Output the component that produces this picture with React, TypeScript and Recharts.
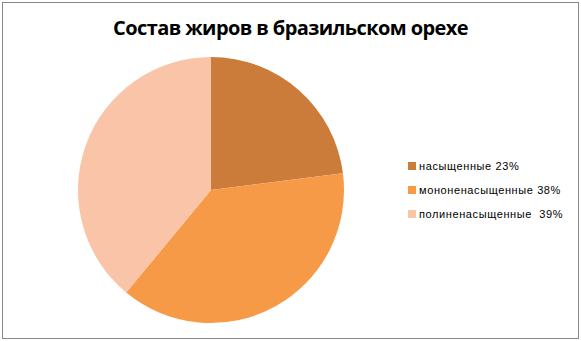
import { PieChart, Pie, Cell } from "recharts";

const fats = ["насыщенные", "мононенасыщенные", "полиненасыщенные"];
const shares = [23, 38, 39];
const legendLabels = ["насыщенные 23%", "мононенасыщенные 38%", "полиненасыщенные  39%"];
const colors = ["#CC7C3A", "#F79A48", "#F9C4A8"];

const data = fats.map((name, i) => ({ name, value: shares[i] }));

export default function App() {
  return (
    <div style={{ position: "fixed", left: 0, top: 0, width: 581, height: 341, background: "#fff" }}>
      <div
        style={{
          position: "absolute",
          left: 2,
          top: 2,
          width: 575,
          height: 335,
          border: "1px solid #888",
        }}
      />
      <div
        style={{
          position: "absolute",
          left: 0,
          width: 581,
          top: 14,
          textAlign: "center",
          fontFamily: "'Open Sans', sans-serif",
          fontWeight: 700,
          fontSize: 20,
          letterSpacing: -0.6,
          color: "#000",
        }}
      >
        Состав жиров в бразильском орехе
      </div>
      <div style={{ position: "absolute", left: 0, top: 0 }}>
        <PieChart width={581} height={341} margin={{ top: 0, right: 0, bottom: 0, left: 0 }}>
          <Pie
            data={data}
            dataKey="value"
            nameKey="name"
            cx={211}
            cy={190}
            outerRadius={133}
            startAngle={90}
            endAngle={-270}
            stroke="none"
            isAnimationActive={false}
          >
            {data.map((d, i) => (
              <Cell key={d.name} fill={colors[i]} />
            ))}
          </Pie>
        </PieChart>
      </div>
      {legendLabels.map((label, i) => (
        <div
          key={label}
          style={{
            position: "absolute",
            left: 408,
            top: 158 + i * 24,
            height: 16,
            display: "flex",
            alignItems: "center",
            fontFamily: "'Liberation Sans', sans-serif",
            fontSize: 11,
            letterSpacing: 0.6,
            whiteSpace: "pre",
            color: "#000",
          }}
        >
          <span style={{ width: 8, height: 8, background: colors[i], marginRight: 3 }} />
          {label}
        </div>
      ))}
    </div>
  );
}
